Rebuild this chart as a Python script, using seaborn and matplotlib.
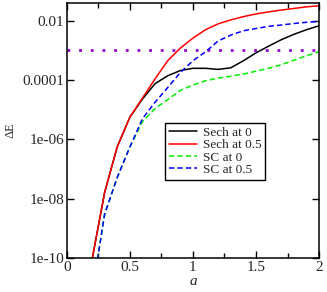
import matplotlib
matplotlib.use("Agg")
import matplotlib.pyplot as plt
import numpy as np
import pandas as pd
import seaborn as sns
from matplotlib.ticker import FixedLocator, FixedFormatter, MultipleLocator

a_vals = [0.2, 0.3, 0.4, 0.5, 0.6, 0.7, 0.8, 0.9, 1.0, 1.1,
          1.2, 1.3, 1.4, 1.5, 1.6, 1.7, 1.8, 1.9, 2.0]

sech_0 = [8.5e-11, 1.6e-8, 5.6e-7, 5.6e-6, 2.3e-5, 7.6e-5, 1.4e-4, 2.1e-4, 2.5e-4, 2.5e-4,
          2.3e-4, 2.6e-4, 4.5e-4, 8.3e-4, 1.4e-3, 2.3e-3, 3.5e-3, 5.0e-3, 6.8e-3]
sech_05 = [8.5e-11, 1.6e-8, 5.6e-7, 5.6e-6, 2.5e-5, 1.1e-4, 4.5e-4, 1.2e-3, 2.6e-3, 5.0e-3,
           7.9e-3, 1.07e-2, 1.38e-2, 1.7e-2, 2.0e-2, 2.3e-2, 2.6e-2, 2.95e-2, 3.2e-2]
sc_0 = [6e-12, 3e-9, 5.2e-8, 5.5e-7, 4e-6, 1.1e-5, 2.2e-5, 4.5e-5, 6.8e-5, 9.5e-5,
        1.17e-4, 1.35e-4, 1.6e-4, 2.0e-4, 2.5e-4, 3.3e-4, 4.7e-4, 6.6e-4, 9.1e-4]
sc_05 = [6e-12, 3e-9, 5.2e-8, 5.5e-7, 5e-6, 1.8e-5, 5.6e-5, 1.8e-4, 4.5e-4, 9e-4,
         2.1e-3, 3.3e-3, 4.6e-3, 5.5e-3, 6.5e-3, 7.2e-3, 8.1e-3, 8.9e-3, 9.5e-3]

series_names = ["Sech at 0", "Sech at 0.5", "SC at 0", "SC at 0.5"]
threshold = 1e-3

y_ticks = [1e-10, 1e-8, 1e-6, 1e-4, 1e-2]
y_labels = ["1e-10", "1e-08", "1e-06", "0.0001", "0.01"]
x_ticks = [0, 0.5, 1, 1.5, 2]
x_labels = ["0", "0.5", "1", "1.5", "2"]

df = pd.DataFrame({
    "a": a_vals * 4,
    "dE": sech_0 + sech_05 + sc_0 + sc_05,
    "series": [n for n in series_names for _ in a_vals],
})

sns.set_style("ticks")
plt.rcParams["font.family"] = ["Liberation Serif", "DejaVu Serif"]

fig = plt.figure(figsize=(3.27, 2.92), dpi=100)
ax = fig.add_axes([0.204, 0.116, 0.772, 0.874])

palette = {"Sech at 0": "black", "Sech at 0.5": "#ff0000",
           "SC at 0": "#00ee00", "SC at 0.5": "#0000ff"}
dashes = {"Sech at 0": "", "Sech at 0.5": "",
          "SC at 0": (3.5, 2), "SC at 0.5": (3.5, 2)}

sns.lineplot(data=df, x="a", y="dE", hue="series", style="series",
             hue_order=series_names, style_order=series_names,
             palette=palette, dashes=dashes, linewidth=1.1, ax=ax)

ax.axhline(threshold, color="#9400d3", linestyle=(0, (1, 3.2)),
           linewidth=2.0, zorder=1)

ax.set_yscale("log")
ax.set_xlim(0, 2)
ax.set_ylim(1e-10, 0.04)

ax.yaxis.set_major_locator(FixedLocator(y_ticks))
ax.yaxis.set_major_formatter(FixedFormatter(y_labels))
ax.yaxis.set_minor_locator(FixedLocator([]))
ax.xaxis.set_major_locator(FixedLocator(x_ticks))
ax.xaxis.set_major_formatter(FixedFormatter(x_labels))
ax.xaxis.set_minor_locator(MultipleLocator(0.25))

ax.tick_params(which="both", direction="in", top=True, right=True,
               labelsize=11, width=1, color="black", pad=2)
ax.tick_params(which="major", length=5)
ax.tick_params(which="minor", length=3.5)
for s in ax.spines.values():
    s.set_linewidth(1.1)
    s.set_color("black")

ax.set_xlabel("a", fontsize=11, style="italic", labelpad=1)
ax.set_ylabel("ΔE", fontsize=9, labelpad=4)

leg = ax.legend(loc="upper left", bbox_to_anchor=(0.39, 0.53),
                fontsize=9.5, frameon=True, fancybox=False,
                edgecolor="black", framealpha=1, handlelength=2.1,
                handletextpad=0.45, labelspacing=0.0, borderpad=0.3,
                borderaxespad=0)
leg.get_frame().set_linewidth(1.0)

fig.savefig("out.png", dpi=100)
